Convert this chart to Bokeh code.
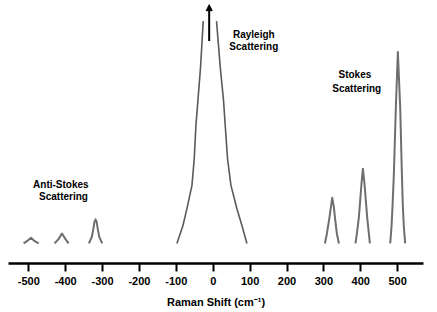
from bokeh.plotting import figure
from bokeh.models import FixedTicker, Arrow, NormalHead, ColumnDataSource
from bokeh.core.properties import value
from bokeh.embed import file_html
from bokeh.resources import INLINE

# Raman shift ticks
tick_values = [-500, -400, -300, -200, -100, 0, 100, 200, 300, 400, 500]
tick_labels = ["-500", "-400", "-300", "-200", "-100", "0", "100", "200", "300", "400", "500"]

# Digitized peak outlines (Raman shift, intensity)
as500_x = [-514, -505, -494, -484, -473]
as500_y = [0, 1.2, 3.0, 1.2, 0]
as413_x = [-430, -419, -410, -401, -392]
as413_y = [0, 2.4, 5.2, 2.4, 0]
as318_x = [-337, -329, -325, -322, -319, -316, -313, -309, -301]
as318_y = [0, 3.5, 7.5, 11.3, 12.6, 11.3, 7.5, 3.5, 0]

ray_left_x = [-98.4, -82.1, -71.3, -57.7, -51.5, -46.9, -41.5, -34.4, -27.1]
ray_left_y = [0, 9.4, 18.2, 30.4, 44.3, 61.8, 74.9, 92.3, 116.4]
ray_right_x = [8.9, 19.0, 27.9, 32.5, 38.8, 48.0, 64.2, 77.8, 91.3]
ray_right_y = [116.4, 92.3, 74.9, 61.8, 44.3, 30.4, 18.2, 9.4, 0]

s320_x = [302.7, 308.1, 315.2, 319.0, 322.5, 327.1, 329.8, 335.2, 340.7]
s320_y = [0, 5.1, 13.8, 19.0, 23.9, 19.0, 13.8, 5.1, 0]
s405_x = [385.6, 389.4, 394.9, 401.9, 405.7, 410.0, 417.3, 421.9, 424.7]
s405_y = [0, 5.1, 13.8, 31.3, 39.1, 31.3, 13.8, 5.1, 0]
s500_x = [479.7, 483.2, 485.9, 489.7, 495.1, 500.5, 506.8, 511.4, 514.1, 516.8, 520.3]
s500_y = [0, 8.5, 19.0, 36.5, 71.4, 100.2, 71.4, 36.5, 19.0, 8.5, 0]

# Annotation labels
label_text = ["Rayleigh", "Scattering", "Stokes", "Scattering", "Anti-Stokes", "Scattering"]
label_x = [110, 110, 384, 389, -413, -406]
label_y = [109.4, 103.1, 88.3, 81.3, 30.7, 24.6]

# Arrow on Rayleigh peak
arrow_x = -11
arrow_y0 = 106
arrow_y1 = 125

p = figure(width=437, height=312, output_backend="svg", toolbar_location=None,
           x_range=(-555, 570), y_range=(-10.5, 127.2),
           min_border_left=8, min_border_right=14, min_border_top=0, min_border_bottom=49)
p.outline_line_color = None
p.xgrid.visible = False
p.ygrid.visible = False
p.yaxis.visible = False
p.background_fill_color = "white"
p.border_fill_color = "white"

peak_color = "#6e6e6e"
for xs, ys in [(as500_x, as500_y), (as413_x, as413_y), (as318_x, as318_y),
               (s320_x, s320_y), (s405_x, s405_y), (s500_x, s500_y)]:
    p.line(xs, ys, line_color=peak_color, line_width=2, line_join="round")
for xs, ys in [(ray_left_x, ray_left_y), (ray_right_x, ray_right_y)]:
    p.line(xs, ys, line_color="#5a5a5a", line_width=1.6, line_join="round")

p.add_layout(Arrow(end=NormalHead(size=6, fill_color="black", line_color="black"),
                   x_start=arrow_x, y_start=arrow_y0, x_end=arrow_x, y_end=arrow_y1,
                   line_width=2, line_color="black"))

src = ColumnDataSource(dict(x=label_x, y=label_y, t=label_text))
p.text(x="x", y="y", text="t", source=src, text_align="center", text_baseline="middle",
       text_font=value("Liberation Sans"), text_font_style="bold", text_font_size="10px",
       text_color="black")

ax = p.xaxis[0]
ax.ticker = FixedTicker(ticks=tick_values)
ax.major_label_overrides = {v: s for v, s in zip(tick_values, tick_labels)}
ax.axis_line_width = 2.5
ax.axis_line_color = "black"
ax.major_tick_line_width = 2
ax.major_tick_line_color = "black"
ax.major_tick_out = 8
ax.major_tick_in = 0
ax.minor_tick_line_color = None
ax.major_label_text_font = "Liberation Sans"
ax.major_label_text_font_style = "bold"
ax.major_label_text_font_size = "11px"
ax.major_label_text_color = "black"
ax.major_label_standoff = 5
ax.axis_label = "Raman Shift (cm\u207b\u00b9)"
ax.axis_label_text_font = "Liberation Sans"
ax.axis_label_text_font_style = "bold"
ax.axis_label_text_font_size = "11px"
ax.axis_label_text_color = "black"
ax.axis_label_standoff = 8

open("out.html", "w").write(file_html(p, INLINE))
